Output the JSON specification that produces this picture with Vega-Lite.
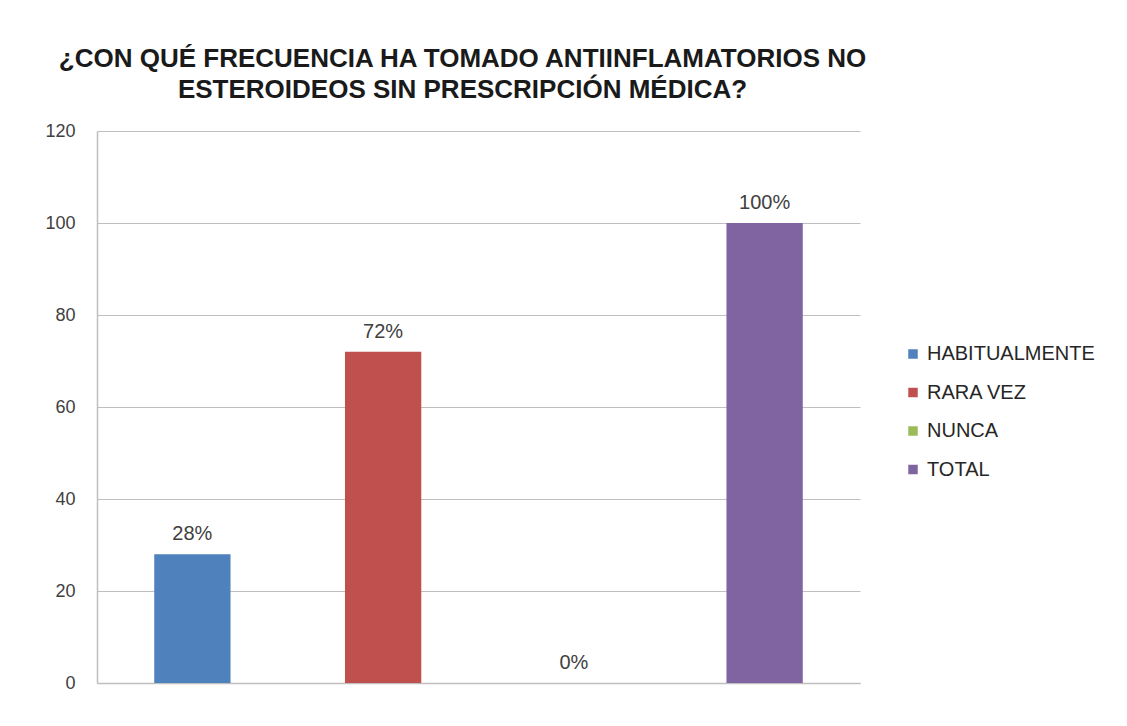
{
  "$schema": "https://vega.github.io/schema/vega-lite/v6.json",
  "width": 763,
  "height": 552,
  "autosize": {"type": "none"},
  "padding": {"left": 97, "top": 131, "right": 267, "bottom": 43},
  "background": "white",
  "title": {
    "text": ["¿CON QUÉ FRECUENCIA HA TOMADO ANTIINFLAMATORIOS NO", "ESTEROIDEOS SIN PRESCRIPCIÓN MÉDICA?"],
    "font": "Liberation Sans",
    "fontSize": 26,
    "fontWeight": "bold",
    "color": "#1a1a1a",
    "anchor": "middle",
    "dx": -16,
    "offset": 19,
    "lineHeight": 31
  },
  "data": {
    "values": [
      {"categoria": "HABITUALMENTE", "valor": 28, "etiqueta": "28%"},
      {"categoria": "RARA VEZ", "valor": 72, "etiqueta": "72%"},
      {"categoria": "NUNCA", "valor": 0, "etiqueta": "0%"},
      {"categoria": "TOTAL", "valor": 100, "etiqueta": "100%"}
    ]
  },
  "encoding": {
    "x": {
      "field": "categoria",
      "type": "nominal",
      "sort": ["HABITUALMENTE", "RARA VEZ", "NUNCA", "TOTAL"],
      "scale": {"paddingInner": 0.6, "paddingOuter": 0.3},
      "axis": {"labels": false, "ticks": false, "title": null, "domainColor": "#BFBFBF", "domainWidth": 1.5}
    },
    "y": {
      "field": "valor",
      "type": "quantitative",
      "scale": {"domain": [0, 120]},
      "axis": {
        "values": [0, 20, 40, 60, 80, 100, 120],
        "title": null,
        "ticks": false,
        "labelPadding": 22,
        "labelFont": "Liberation Sans",
        "labelFontSize": 18,
        "labelColor": "#404040",
        "gridColor": "#BFBFBF",
        "gridWidth": 1.2,
        "domainColor": "#BFBFBF",
        "domainWidth": 1.5
      }
    }
  },
  "layer": [
    {
      "mark": {"type": "bar"},
      "encoding": {
        "color": {
          "field": "categoria",
          "type": "nominal",
          "scale": {
            "domain": ["HABITUALMENTE", "RARA VEZ", "NUNCA", "TOTAL"],
            "range": ["#4F81BD", "#C0504D", "#9BBB59", "#8064A2"]
          },
          "legend": {
            "title": null,
            "orient": "none",
            "legendX": 806,
            "legendY": 213,
            "symbolType": "square",
            "symbolSize": 90,
            "symbolStrokeWidth": 0,
            "labelFont": "Liberation Sans",
            "labelFontSize": 20,
            "labelColor": "#262626",
            "labelOffset": 4,
            "rowPadding": 18.5,
            "labelLimit": 300
          }
        }
      }
    },
    {
      "mark": {"type": "text", "baseline": "bottom", "dy": -10, "font": "Liberation Sans", "fontSize": 20, "color": "#404040"},
      "encoding": {"text": {"field": "etiqueta"}}
    }
  ],
  "config": {"view": {"stroke": null}}
}
